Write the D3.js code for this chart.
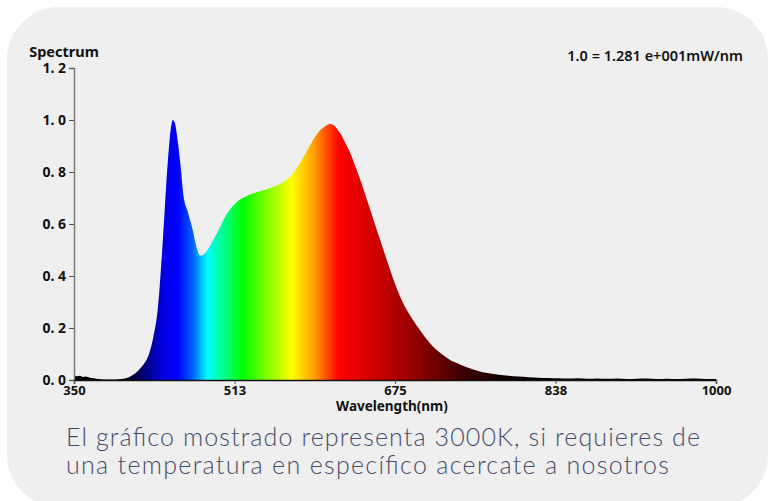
<!DOCTYPE html>
<html>
<head>
<meta charset="utf-8">
<script src="https://cdn.jsdelivr.net/npm/d3@7/dist/d3.min.js"></script>
<style>
  body { margin: 0; background: #fff; }
  svg { display: block; }
  .tick text { font-family: "Noto Sans", sans-serif; font-weight: 700; fill: #111; }
</style>
</head>
<body>
<svg width="770" height="501"></svg>
<script>
// spectrum readings (nm, relative value)
const wavelengths = [350, 353, 356, 359, 362, 366, 370, 375, 380, 385, 390, 395, 400, 405, 410, 415, 420, 425, 430, 435,
  440, 445, 448, 450, 452, 455, 458, 461, 465, 470, 474, 478, 482, 486, 490, 495, 500, 505, 510, 515,
  520, 525, 530, 535, 540, 545, 550, 555, 560, 565, 570, 575, 580, 585, 590, 595, 600, 605, 609, 613,
  617, 620, 625, 630, 635, 640, 645, 650, 655, 660, 665, 670, 675, 680, 685, 690, 695, 700, 705, 710,
  715, 720, 725, 730, 735, 740, 745, 750, 760, 770, 780, 790, 800, 810, 820, 830, 840, 850, 860, 870,
  880, 890, 900, 910, 920, 930, 940, 950, 960, 970, 980, 990, 1000];
const intensities = [0.018, 0.014, 0.016, 0.012, 0.013, 0.009, 0.007, 0.004, 0.002, 0.002, 0.002, 0.003, 0.005, 0.010, 0.020, 0.036, 0.058, 0.090, 0.160, 0.280,
  0.540, 0.840, 0.965, 1.000, 0.990, 0.920, 0.820, 0.705, 0.650, 0.580, 0.512, 0.478, 0.485, 0.505, 0.532, 0.566, 0.605, 0.640, 0.665, 0.685,
  0.698, 0.708, 0.716, 0.722, 0.728, 0.734, 0.740, 0.748, 0.757, 0.770, 0.787, 0.812, 0.842, 0.875, 0.910, 0.940, 0.963, 0.978, 0.985, 0.980,
  0.962, 0.946, 0.910, 0.870, 0.820, 0.768, 0.712, 0.654, 0.595, 0.538, 0.480, 0.424, 0.370, 0.322, 0.282, 0.250, 0.220, 0.193, 0.166, 0.143,
  0.123, 0.107, 0.092, 0.079, 0.069, 0.061, 0.053, 0.046, 0.034, 0.026, 0.020, 0.016, 0.013, 0.011, 0.009, 0.008, 0.007, 0.006, 0.007, 0.005,
  0.006, 0.005, 0.006, 0.004, 0.005, 0.006, 0.004, 0.005, 0.004, 0.005, 0.006, 0.004, 0.004];

// colour of the fill along the wavelength axis
const colorStopNm = [350, 400, 420, 440, 455, 470, 485, 521, 570, 592, 618, 660, 700, 740, 780, 830];
const colorStops = ['#000000', '#000010', '#000070', '#0000e0', '#0000ff', '#0060ff', '#00ffff', '#00ff00', '#ffff00', '#ffa500',
  '#ff0000', '#c80000', '#8a0000', '#420000', '#160000', '#000000'];

const xTicks = [350, 512.5, 675, 837.5, 1000];
const xTickLabels = ['350', '513', '675', '838', '1000'];
const yTicks = [0, 0.2, 0.4, 0.6, 0.8, 1.0, 1.2];

const title = 'Spectrum';
const unitNote = '1.0 = 1.281 e+001mW/nm';
const xAxisLabel = 'Wavelength(nm)';
const caption = ['El gráfico mostrado representa 3000K, si requieres de',
  'una temperatura en específico acercate a nosotros'];

const svg = d3.select('svg');
const width = +svg.attr('width');
const height = +svg.attr('height');

// card background
svg.append('rect')
  .attr('x', 7).attr('y', 7)
  .attr('width', 761).attr('height', 500)
  .attr('rx', 52)
  .attr('fill', '#efefef');

const margin = { top: 68, right: 54, bottom: 121, left: 74 };
const innerWidth = width - margin.left - margin.right;
const innerHeight = height - margin.top - margin.bottom;

const xScale = d3.scaleLinear().domain([350, 1000]).range([0, innerWidth]);
const yScale = d3.scaleLinear().domain([0, 1.2]).range([innerHeight, 0]);

const g = svg.append('g')
  .attr('transform', `translate(${margin.left},${margin.top})`);

// horizontal wavelength gradient
const grad = svg.append('defs').append('linearGradient')
  .attr('id', 'spec')
  .attr('gradientUnits', 'userSpaceOnUse')
  .attr('x1', xScale(350)).attr('x2', xScale(1000))
  .attr('y1', 0).attr('y2', 0);
grad.selectAll('stop')
  .data(colorStopNm)
  .join('stop')
  .attr('offset', d => (d - 350) / 650)
  .attr('stop-color', (d, i) => colorStops[i]);

const data = wavelengths.map((w, i) => ({ w, v: intensities[i] }));

const area = d3.area()
  .x(d => xScale(d.w))
  .y0(yScale(0))
  .y1(d => yScale(d.v))
  .curve(d3.curveMonotoneX);

g.append('path')
  .attr('d', area(data))
  .attr('fill', 'url(#spec)');

// axes
const yAxis = d3.axisLeft(yScale)
  .tickValues(yTicks)
  .tickSize(5)
  .tickPadding(3)
  .tickFormat(d => d3.format('.1f')(d).replace('.', '. '));

const yAxisG = g.append('g').call(yAxis);
yAxisG.select('.domain').attr('stroke', '#7a7a7a').attr('stroke-width', 1.5);
yAxisG.selectAll('.tick line').attr('stroke', '#555');
yAxisG.selectAll('.tick text').attr('font-size', 14).attr('dy', '0.3em');

const xAxis = d3.axisBottom(xScale)
  .tickValues(xTicks)
  .tickSize(4)
  .tickPadding(3)
  .tickFormat((d, i) => xTickLabels[i]);

const xAxisG = g.append('g').call(xAxis)
  .attr('transform', `translate(0,${innerHeight})`);
xAxisG.select('.domain').attr('stroke', '#111').attr('stroke-width', 1.5);
xAxisG.selectAll('.tick line').attr('stroke', '#555');
xAxisG.selectAll('.tick text').attr('font-size', 13).attr('dy', '0.62em');

xAxisG.append('text')
  .attr('x', xScale(675) - 3)
  .attr('y', 31)
  .attr('fill', '#111')
  .attr('text-anchor', 'middle')
  .attr('font-family', '"Noto Sans", sans-serif')
  .attr('font-weight', 700)
  .attr('font-size', 13.5)
  .text(xAxisLabel);

// titles
svg.append('text')
  .attr('x', 64).attr('y', 57)
  .attr('text-anchor', 'middle')
  .attr('font-family', '"Noto Sans", sans-serif')
  .attr('font-weight', 700)
  .attr('font-size', 14.5)
  .attr('fill', '#111')
  .text(title);

svg.append('text')
  .attr('x', 743).attr('y', 61)
  .attr('text-anchor', 'end')
  .attr('font-family', '"Noto Sans", sans-serif')
  .attr('font-weight', 600)
  .attr('font-size', 14.5)
  .attr('fill', '#111')
  .text(unitNote);

// caption under the chart
svg.append('g')
  .selectAll('text')
  .data(caption)
  .join('text')
  .attr('x', 66)
  .attr('y', (d, i) => 446 + i * 28)
  .attr('font-family', 'Lato, sans-serif')
  .attr('font-weight', 300)
  .attr('font-size', 25)
  .attr('fill', '#474b6b')
  .attr('textLength', (d, i) => i === 0 ? 634 : 603)
  .attr('lengthAdjust', 'spacing')
  .text(d => d);
</script>
</body>
</html>
